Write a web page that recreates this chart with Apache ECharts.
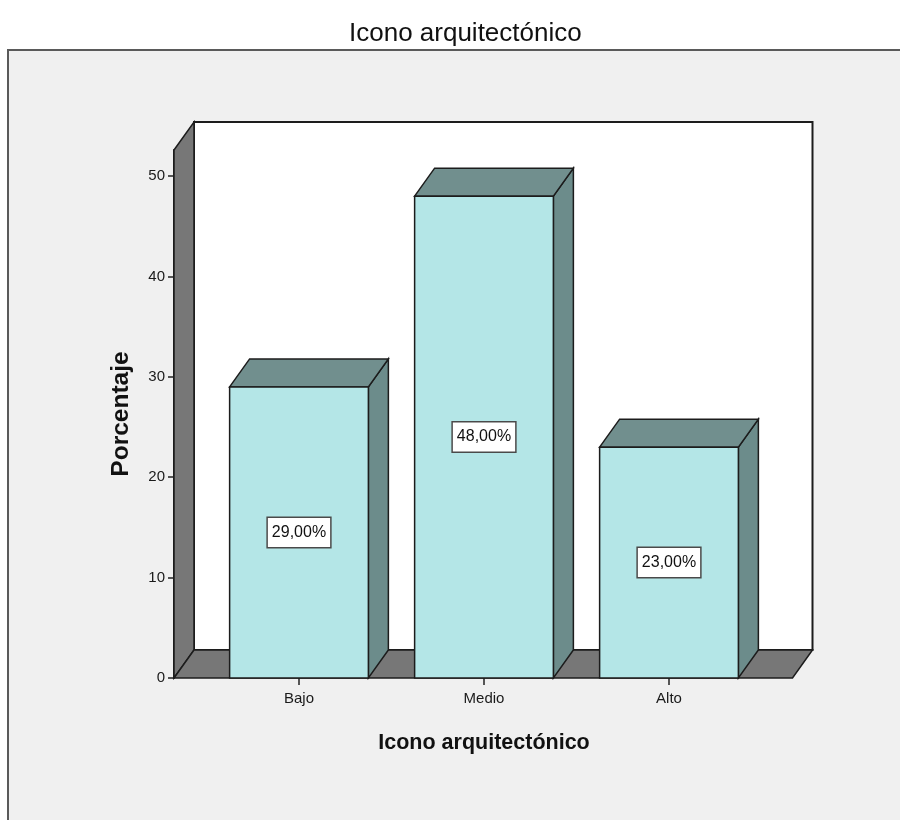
<!DOCTYPE html>
<html>
<head>
<meta charset="utf-8">
<title>Icono arquitectónico</title>
<script src="https://cdn.jsdelivr.net/npm/echarts@6/dist/echarts.min.js"></script>
<style>
  html, body { margin: 0; padding: 0; background: #ffffff; }
  #chart { width: 900px; height: 820px; }
</style>
</head>
<body>
<div id="chart"></div>
<script>
// Percentage of responses per level
const categories = ['Bajo', 'Medio', 'Alto'];
const percentages = [29, 48, 23];
const yTickValues = [0, 10, 20, 30, 40, 50];
const yAxisMax = 52.6;

// Oblique depth of the pseudo-3D box and bars (pixels)
const DEPTH_X = 20;
const DEPTH_Y = -28;

const FONT = "'Liberation Sans', Arial, sans-serif";
const EDGE = '#1c1c1c';

function formatPct(v) {
  return v.toFixed(2).replace('.', ',') + '%';
}

// Back wall, left wall and floor of the chart box
function renderWalls(params, api) {
  const cs = params.coordSys;
  const base = api.coord([0, 0])[1];
  const top = api.coord([0, yAxisMax])[1];
  const xl = cs.x - 32.5;
  const xr = cs.x + cs.width + 31;
  return {
    type: 'group',
    children: [
      {
        type: 'rect',
        shape: { x: xl + DEPTH_X, y: top + DEPTH_Y, width: xr - xl, height: base - top },
        style: { fill: '#ffffff', stroke: EDGE, lineWidth: 2 }
      },
      {
        type: 'polygon',
        shape: { points: [[xl, top], [xl + DEPTH_X, top + DEPTH_Y], [xl + DEPTH_X, base + DEPTH_Y], [xl, base]] },
        style: { fill: '#777777', stroke: EDGE, lineWidth: 1.5 }
      },
      {
        type: 'polygon',
        shape: { points: [[xl, base], [xl + DEPTH_X, base + DEPTH_Y], [xr + DEPTH_X, base + DEPTH_Y], [xr, base]] },
        style: { fill: '#777777', stroke: EDGE, lineWidth: 1.5 }
      }
    ]
  };
}

// One pseudo-3D bar: front face, top, right side and value label
function renderBar(params, api) {
  const idx = api.value(0);
  const val = api.value(1);
  const topPt = api.coord([idx, val]);
  const base = api.coord([idx, 0])[1];
  const w = api.size([1, 0])[0] * 0.75;
  const x0 = topPt[0] - w / 2;
  const x1 = x0 + w;
  const ty = topPt[1];
  return {
    type: 'group',
    children: [
      {
        type: 'polygon',
        shape: { points: [[x1, ty], [x1 + DEPTH_X, ty + DEPTH_Y], [x1 + DEPTH_X, base + DEPTH_Y], [x1, base]] },
        style: { fill: '#6c8c8b', stroke: EDGE, lineWidth: 1.5 }
      },
      {
        type: 'polygon',
        shape: { points: [[x0, ty], [x0 + DEPTH_X, ty + DEPTH_Y], [x1 + DEPTH_X, ty + DEPTH_Y], [x1, ty]] },
        style: { fill: '#718f8e', stroke: EDGE, lineWidth: 1.5 }
      },
      {
        type: 'rect',
        shape: { x: x0, y: ty, width: w, height: base - ty },
        style: { fill: '#b4e6e7', stroke: EDGE, lineWidth: 1.5 }
      },
      {
        type: 'text',
        style: {
          text: formatPct(val),
          x: topPt[0],
          y: (ty + base) / 2,
          align: 'center',
          verticalAlign: 'middle',
          font: '16px ' + FONT,
          fill: '#111111',
          backgroundColor: '#ffffff',
          borderColor: '#4a4a4a',
          borderWidth: 1.5,
          padding: [7, 4, 6, 4]
        }
      }
    ]
  };
}

const chart = echarts.init(document.getElementById('chart'), null, { renderer: 'canvas' });

chart.setOption({
  backgroundColor: '#ffffff',
  animation: false,
  graphic: [
    {
      type: 'rect',
      z: -100,
      shape: { x: 8, y: 50, width: 1000, height: 1000 },
      style: { fill: '#f0f0f0', stroke: '#5a5a5a', lineWidth: 2 }
    }
  ],
  title: {
    text: 'Icono arquitectónico',
    left: 344,
    top: 16,
    textStyle: { fontFamily: FONT, fontSize: 26, fontWeight: 'normal', color: '#111111' }
  },
  grid: { left: 206.5, right: 138.5, top: 150, bottom: 142, containLabel: false },
  xAxis: {
    type: 'category',
    data: categories,
    axisLine: { show: false },
    axisTick: { show: true, alignWithLabel: true, length: 7, lineStyle: { color: '#222222', width: 1.5 } },
    axisLabel: { margin: 13, fontFamily: FONT, fontSize: 15, color: '#1a1a1a' },
    name: 'Icono arquitectónico',
    nameLocation: 'middle',
    nameGap: 54,
    nameTextStyle: { fontFamily: FONT, fontSize: 21.5, fontWeight: 'bold', color: '#111111' }
  },
  yAxis: {
    type: 'value',
    min: 0,
    max: yAxisMax,
    interval: 10,
    offset: 32.5,
    splitLine: { show: false },
    axisLine: { show: true, lineStyle: { color: '#1c1c1c', width: 2 } },
    axisTick: { show: true, length: 6, customValues: yTickValues, lineStyle: { color: '#222222', width: 1.5 } },
    axisLabel: { margin: 9, customValues: yTickValues, fontFamily: FONT, fontSize: 15, color: '#1a1a1a' },
    name: 'Porcentaje',
    nameLocation: 'middle',
    nameGap: 40,
    nameRotate: 90,
    nameTextStyle: { fontFamily: FONT, fontSize: 24.5, fontWeight: 'bold', color: '#111111' }
  },
  series: [
    {
      type: 'custom',
      name: 'walls',
      z: 1,
      clip: false,
      silent: true,
      renderItem: renderWalls,
      data: [[0, 0]]
    },
    {
      type: 'custom',
      name: 'Porcentaje',
      z: 3,
      clip: false,
      renderItem: renderBar,
      encode: { x: 0, y: 1 },
      data: percentages.map((v, i) => [i, v])
    }
  ]
});
</script>
</body>
</html>
